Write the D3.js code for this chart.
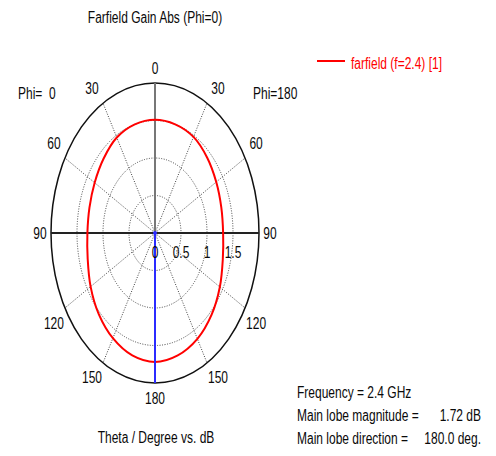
<!DOCTYPE html>
<html>
<head>
<meta charset="utf-8">
<script src="https://cdn.jsdelivr.net/npm/d3@7"></script>
<style>
  html, body { margin: 0; padding: 0; background: #fff; }
  svg text { font-family: "Liberation Sans", Arial, sans-serif; font-size: 12px; white-space: pre; }
</style>
</head>
<body>
<svg id="chart" width="496" height="456"></svg>
<script>
// Farfield gain cut (dB) versus theta, for the two half-planes of the Phi=0 cut
const thetaDeg   = [0, 15, 30, 45, 60, 75, 90, 105, 120, 135, 150, 165, 180];
const gainPhi0   = [1.51, 1.50, 1.47, 1.40, 1.34, 1.305, 1.30, 1.34, 1.43, 1.53, 1.62, 1.69, 1.72];
const gainPhi180 = [1.51, 1.50, 1.48, 1.42, 1.36, 1.32, 1.31, 1.35, 1.44, 1.54, 1.63, 1.69, 1.72];

const angleTicks  = [0, 30, 60, 90, 120, 150, 180];
const radialTicks = [0, 0.5, 1, 1.5];
const gridRings   = [0.5, 1, 1.5];
const radialMax   = 2;

const titleText  = "Farfield Gain Abs (Phi=0)";
const legendText = "farfield (f=2.4) [1]";
const axisText   = "Theta / Degree vs. dB";
const infoRows   = [
  ["Frequency = 2.4 GHz", ""],
  ["Main lobe magnitude =", "1.72 dB"],
  ["Main lobe direction =", "180.0 deg."]
];
const mainLobeDir = 180;

const svg = d3.select("#chart");
const cx = 155, cy = 233;
const textStretch = 1.3;

// radial scales: the plot is drawn taller than wide
const rx = d3.scaleLinear().domain([0, radialMax]).range([0, 104]);
const ry = d3.scaleLinear().domain([0, radialMax]).range([0, 150]);

// side = -1 : left half (Phi=0), side = +1 : right half (Phi=180)
function pos(theta, r, side) {
  const a = theta * Math.PI / 180;
  return [cx + side * rx(r) * Math.sin(a), cy - ry(r) * Math.cos(a)];
}

function addText(x, y, str, anchor = "start", color = "#0a0a0a") {
  return svg.append("text")
    .attr("transform", `translate(${x},${y}) scale(1,${textStretch})`)
    .attr("text-anchor", anchor)
    .attr("fill", color)
    .text(str);
}

const grid = svg.append("g");

// dotted rings
grid.selectAll("ellipse.ring").data(gridRings).join("ellipse")
  .attr("class", "ring")
  .attr("cx", cx).attr("cy", cy)
  .attr("rx", d => rx(d)).attr("ry", d => ry(d))
  .attr("fill", "none").attr("stroke", "#444")
  .attr("stroke-width", 1).attr("stroke-dasharray", "1,1.5");

// dotted spokes
const spokes = [];
angleTicks.filter(t => t % 90 !== 0).forEach(t => { spokes.push([t, -1]); spokes.push([t, 1]); });
grid.selectAll("line.spoke").data(spokes).join("line")
  .attr("class", "spoke")
  .attr("x1", cx).attr("y1", cy)
  .attr("x2", d => pos(d[0], radialMax, d[1])[0])
  .attr("y2", d => pos(d[0], radialMax, d[1])[1])
  .attr("stroke", "#444").attr("stroke-width", 1).attr("stroke-dasharray", "1,1.5");

// outer boundary
grid.append("ellipse")
  .attr("cx", cx).attr("cy", cy)
  .attr("rx", rx(radialMax)).attr("ry", ry(radialMax))
  .attr("fill", "none").attr("stroke", "#111").attr("stroke-width", 1.5);

// 90 degree axis across the plot
grid.append("line")
  .attr("x1", pos(90, radialMax, -1)[0]).attr("y1", cy)
  .attr("x2", pos(90, radialMax, 1)[0]).attr("y2", cy)
  .attr("stroke", "#222").attr("stroke-width", 2);

// 0 degree axis
grid.append("line")
  .attr("x1", cx).attr("y1", cy)
  .attr("x2", cx).attr("y2", pos(0, radialMax, 1)[1])
  .attr("stroke", "#777").attr("stroke-width", 2);

// gain curve, closed around both halves
const pts = [];
thetaDeg.forEach((t, i) => pts.push(pos(t, gainPhi180[i], 1)));
for (let i = thetaDeg.length - 2; i > 0; i--) pts.push(pos(thetaDeg[i], gainPhi0[i], -1));
const line = d3.line().curve(d3.curveCatmullRomClosed.alpha(0.5));
svg.append("path")
  .attr("d", line(pts))
  .attr("fill", "none").attr("stroke", "#ff0000").attr("stroke-width", 2);

// main lobe direction
const lobeEnd = pos(mainLobeDir, radialMax, 1);
svg.append("line")
  .attr("x1", cx).attr("y1", cy)
  .attr("x2", lobeEnd[0]).attr("y2", lobeEnd[1])
  .attr("stroke", "#2b2bff").attr("stroke-width", 2);
svg.append("circle").attr("cx", cx).attr("cy", cy).attr("r", 2).attr("fill", "#2b2bff");

// angle labels
const angleLabels = [];
angleTicks.forEach(t => {
  if (t === 0 || t === 180) angleLabels.push([t, 1]);
  else { angleLabels.push([t, -1]); angleLabels.push([t, 1]); }
});
angleLabels.forEach(([t, side]) => {
  const [x, y] = pos(t, radialMax, side);
  const a = t * Math.PI / 180;
  const ox = Math.abs(Math.sin(a)) > 0.05 ? side * 11 : 0;
  const oy = Math.abs(Math.cos(a)) > 0.05 ? -Math.sign(Math.cos(a)) * 15 : 0;
  addText(x + ox, y + oy + 5.5, String(t), "middle");
});

// radial labels
radialTicks.forEach(v => addText(cx + rx(v), cy + 25, String(v), "middle"));

// titles
addText(cx, 23, titleText, "middle");
addText(18, 99, "Phi=  0");
addText(253, 99, "Phi=180");
addText(156, 443, axisText, "middle");

// legend
svg.append("line").attr("x1", 317).attr("x2", 345).attr("y1", 61).attr("y2", 61)
  .attr("stroke", "#ff0000").attr("stroke-width", 2);
addText(351, 69, legendText, "start", "#ff0000");

// summary
infoRows.forEach((row, i) => {
  const y = 398 + i * 23;
  addText(297, y, row[0]);
  if (row[1]) addText(481, y, row[1], "end");
});
</script>
</body>
</html>
